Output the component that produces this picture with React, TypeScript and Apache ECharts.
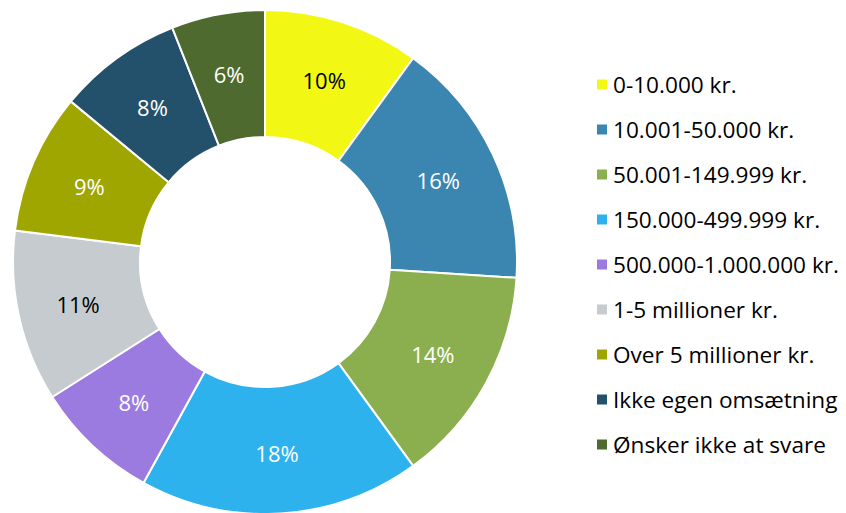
import React, { useEffect, useRef } from "react";
import * as echarts from "echarts";

const categories = [
  "0-10.000 kr.",
  "10.001-50.000 kr.",
  "50.001-149.999 kr.",
  "150.000-499.999 kr.",
  "500.000-1.000.000 kr.",
  "1-5 millioner kr.",
  "Over 5 millioner kr.",
  "Ikke egen omsætning",
  "Ønsker ikke at svare",
];
const values = [10, 16, 14, 18, 8, 11, 9, 8, 6];
const colors = [
  "#F2F714",
  "#3A86B0",
  "#8BAF4E",
  "#2EB2EE",
  "#9B7BE0",
  "#C5CBCF",
  "#A0A600",
  "#23506A",
  "#4F6A2E",
];
const labelColors = ["#000", "#fff", "#fff", "#fff", "#fff", "#000", "#fff", "#fff", "#fff"];

export default function App() {
  const ref = useRef<HTMLDivElement>(null);
  useEffect(() => {
    if (!ref.current) return;
    const chart = echarts.init(ref.current, null, { renderer: "svg" });
    chart.setOption({
      animation: false,
      color: colors,
      legend: {
        orient: "vertical",
        left: 590,
        top: 68,
        padding: 5,
        itemWidth: 12,
        itemHeight: 12,
        itemGap: 22,
        icon: "rect",
        textStyle: {
          fontFamily: "Open Sans",
          fontSize: 22.6,
          color: "#000",
          lineHeight: 23,
        },
        data: categories,
      },
      series: [
        {
          type: "pie",
          center: [265, 262],
          radius: [125, 252],
          startAngle: 90,
          clockwise: true,
          itemStyle: { borderColor: "#fff", borderWidth: 2 },
          label: {
            show: true,
            position: "inside",
            formatter: "{c}%",
            fontFamily: "Open Sans",
            fontSize: 22,
            padding: [6, 0, 0, 0],
          },
          labelLine: { show: false },
          emphasis: { disabled: true },
          data: categories.map((name, i) => ({
            name,
            value: values[i],
            label: { color: labelColors[i] },
          })),
        },
      ],
    });
    return () => chart.dispose();
  }, []);
  return <div ref={ref} style={{ width: 846, height: 513, position: "absolute", left: 0, top: 0 }} />;
}
